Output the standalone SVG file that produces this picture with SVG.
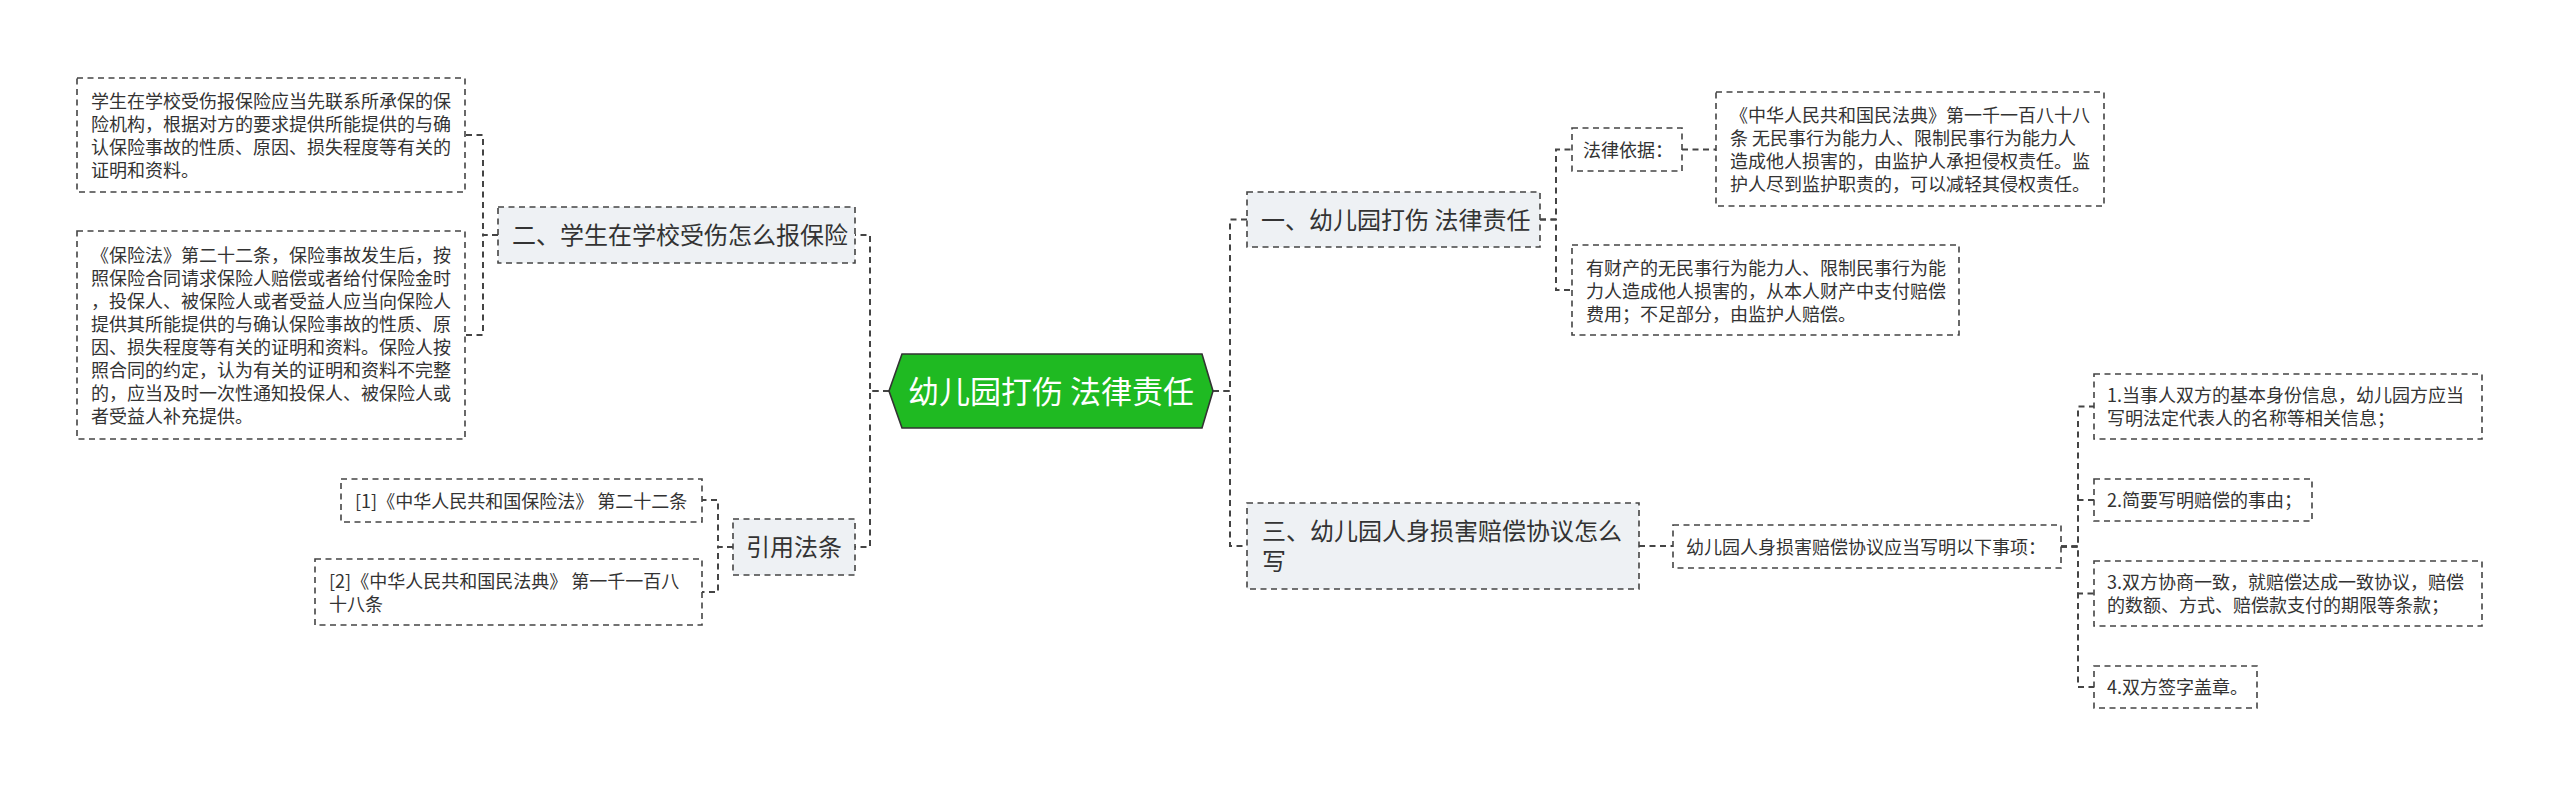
<svg xmlns="http://www.w3.org/2000/svg" width="2560" height="787" viewBox="0 0 2560 787">
<style>
text{font-family:"Noto Sans CJK SC","Noto Sans",sans-serif;fill:#333}
.t2{font-size:18px}
.t1{font-size:24px}
.t0{font-size:31px;fill:#fff}
.b2{fill:#fff;stroke:#444;stroke-width:1.6;stroke-dasharray:6 4.5}
.b1{fill:#eef1f4;stroke:#444;stroke-width:1.6;stroke-dasharray:6 4.5}
.c{fill:none;stroke:#444;stroke-width:2;stroke-dasharray:6 4.5}
</style>
<rect width="2560" height="787" fill="#fff"/>
<g id="connectors">
<path class="c" d="M889,391 H870 V235 H855"/>
<path class="c" d="M889,391 H870 V547 H855"/>
<path class="c" d="M498,235 H483 V135 H465"/>
<path class="c" d="M498,235 H483 V335 H465"/>
<path class="c" d="M733,547 H718 V500 H702"/>
<path class="c" d="M733,547 H718 V592 H702"/>
<path class="c" d="M1213,391 H1230 V219.5 H1247"/>
<path class="c" d="M1213,391 H1230 V546 H1247"/>
<path class="c" d="M1540,219.5 H1556 V149.5 H1572"/>
<path class="c" d="M1540,219.5 H1556 V290 H1572"/>
<path class="c" d="M1682,149.5 H1716"/>
<path class="c" d="M1639,546 H1673"/>
<path class="c" d="M2061,546.5 H2078 V406.5 H2094"/>
<path class="c" d="M2061,546.5 H2078 V500 H2094"/>
<path class="c" d="M2061,546.5 H2078 V593.5 H2094"/>
<path class="c" d="M2061,546.5 H2078 V687 H2094"/>
</g>
<g id="center">
<polygon points="889,391 902,354 1202,354 1213,391 1202,428 902,428" fill="#1fba22" stroke="#333" stroke-width="1.6"/>
<text class="t0" x="1051" y="403" text-anchor="middle">幼儿园打伤 法律责任</text>
</g>
<g id="n-er">
<rect class="b1" x="498" y="207" width="357" height="56"/>
<text class="t1" x="512" y="244">二、学生在学校受伤怎么报保险</text>
</g>
<g id="n-er-1">
<rect class="b2" x="77" y="78" width="388" height="114"/>
<text class="t2"><tspan x="91" y="107.5">学生在学校受伤报保险应当先联系所承保的保</tspan><tspan x="91" y="130.5">险机构，根据对方的要求提供所能提供的与确</tspan><tspan x="91" y="153.5">认保险事故的性质、原因、损失程度等有关的</tspan><tspan x="91" y="176.5">证明和资料。</tspan></text>
</g>
<g id="n-er-2">
<rect class="b2" x="77" y="231" width="388" height="208"/>
<text class="t2"><tspan x="91" y="261.5">《保险法》第二十二条，保险事故发生后，按</tspan><tspan x="91" y="284.5">照保险合同请求保险人赔偿或者给付保险金时</tspan><tspan x="91" y="307.5">，投保人、被保险人或者受益人应当向保险人</tspan><tspan x="91" y="330.5">提供其所能提供的与确认保险事故的性质、原</tspan><tspan x="91" y="353.5">因、损失程度等有关的证明和资料。保险人按</tspan><tspan x="91" y="376.5">照合同的约定，认为有关的证明和资料不完整</tspan><tspan x="91" y="399.5">的，应当及时一次性通知投保人、被保险人或</tspan><tspan x="91" y="422.5">者受益人补充提供。</tspan></text>
</g>
<g id="n-yin">
<rect class="b1" x="733" y="519" width="122" height="56"/>
<text class="t1" x="746" y="556">引用法条</text>
</g>
<g id="n-yin-1">
<rect class="b2" x="341" y="479" width="361" height="43"/>
<text class="t2" x="355" y="507.5">[1]《中华人民共和国保险法》 第二十二条</text>
</g>
<g id="n-yin-2">
<rect class="b2" x="315" y="559" width="387" height="66"/>
<text class="t2"><tspan x="329" y="587.5">[2]《中华人民共和国民法典》 第一千一百八</tspan><tspan x="329" y="610.5">十八条</tspan></text>
</g>
<g id="n-yi">
<rect class="b1" x="1247" y="192" width="293" height="55"/>
<text class="t1" x="1261" y="228.5">一、幼儿园打伤 法律责任</text>
</g>
<g id="n-yi-1">
<rect class="b2" x="1572" y="128" width="110" height="43"/>
<text class="t2" x="1583" y="156.5">法律依据：</text>
</g>
<g id="n-yi-1-1">
<rect class="b2" x="1716" y="92" width="388" height="114"/>
<text class="t2"><tspan x="1730" y="121.5">《中华人民共和国民法典》第一千一百八十八</tspan><tspan x="1730" y="144.5">条 无民事行为能力人、限制民事行为能力人</tspan><tspan x="1730" y="167.5">造成他人损害的，由监护人承担侵权责任。监</tspan><tspan x="1730" y="190.5">护人尽到监护职责的，可以减轻其侵权责任。</tspan></text>
</g>
<g id="n-yi-2">
<rect class="b2" x="1572" y="245" width="387" height="90"/>
<text class="t2"><tspan x="1586" y="274.5">有财产的无民事行为能力人、限制民事行为能</tspan><tspan x="1586" y="297.5">力人造成他人损害的，从本人财产中支付赔偿</tspan><tspan x="1586" y="320.5">费用；不足部分，由监护人赔偿。</tspan></text>
</g>
<g id="n-san">
<rect class="b1" x="1247" y="503" width="392" height="86"/>
<text class="t1"><tspan x="1262" y="540">三、幼儿园人身损害赔偿协议怎么</tspan><tspan x="1262" y="570">写</tspan></text>
</g>
<g id="n-san-1">
<rect class="b2" x="1673" y="525" width="388" height="43"/>
<text class="t2" x="1686" y="553.5">幼儿园人身损害赔偿协议应当写明以下事项：</text>
</g>
<g id="n-san-1-1">
<rect class="b2" x="2094" y="374" width="388" height="65"/>
<text class="t2"><tspan x="2107" y="402">1.当事人双方的基本身份信息，幼儿园方应当</tspan><tspan x="2107" y="425">写明法定代表人的名称等相关信息；</tspan></text>
</g>
<g id="n-san-1-2">
<rect class="b2" x="2094" y="479" width="218" height="42"/>
<text class="t2" x="2107" y="507">2.简要写明赔偿的事由；</text>
</g>
<g id="n-san-1-3">
<rect class="b2" x="2094" y="561" width="388" height="65"/>
<text class="t2"><tspan x="2107" y="589">3.双方协商一致，就赔偿达成一致协议，赔偿</tspan><tspan x="2107" y="612">的数额、方式、赔偿款支付的期限等条款；</tspan></text>
</g>
<g id="n-san-1-4">
<rect class="b2" x="2094" y="666" width="163" height="42"/>
<text class="t2" x="2107" y="694">4.双方签字盖章。</text>
</g>
</svg>
